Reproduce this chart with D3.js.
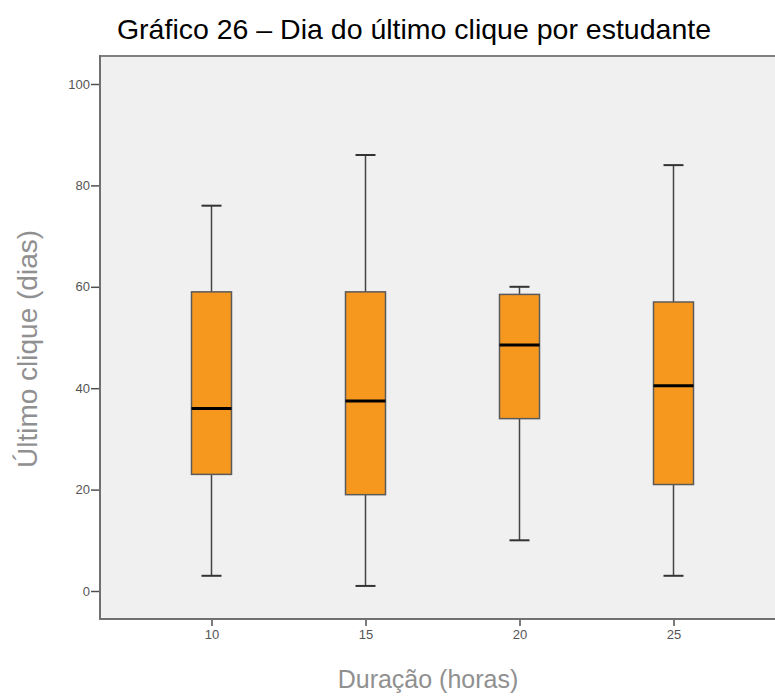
<!DOCTYPE html>
<html>
<head>
<meta charset="utf-8">
<script src="https://cdn.jsdelivr.net/npm/d3@7"></script>
<style>
  body { margin: 0; background: #fff; }
  svg { display: block; font-family: Arial, "Liberation Sans", sans-serif; }
</style>
</head>
<body>
<svg id="chart" width="775" height="697"></svg>
<script>
var WIDTH = 775;
var HEIGHT = 697;

// duração (horas)
var categories = ['10', '15', '20', '25'];
// five number summary
var mins    = [3, 1, 10, 3];
var q1s     = [23, 19, 34, 21];
var medians = [36, 37.5, 48.5, 40.5];
var q3s     = [59, 59, 58.5, 57];
var maxs    = [76, 86, 60, 84];
var yTicks  = [0, 20, 40, 60, 80, 100];

var boxes = categories.map(function(c, i){
    return { cat: c, min: mins[i], q1: q1s[i], med: medians[i], q3: q3s[i], max: maxs[i] };
});

var plot = { left: 100, top: 56, right: 785, bottom: 619 };

var svg = d3.select('#chart');

var xScale = d3.scalePoint()
    .domain(categories)
    .range([plot.left, plot.right])
    .padding(0.724);

var yScale = d3.scaleLinear()
    .domain([0, 100])
    .range([591, 84]);

// plot background
svg.append('rect')
    .attr('x', plot.left)
    .attr('y', plot.top)
    .attr('width', plot.right - plot.left)
    .attr('height', plot.bottom - plot.top)
    .attr('fill', '#f0f0f0');

// frame top
svg.append('line')
    .attr('x1', plot.left).attr('x2', plot.right)
    .attr('y1', plot.top).attr('y2', plot.top)
    .attr('stroke', '#808080').attr('stroke-width', 2);

var leftAxis = d3.axisLeft(yScale).tickValues(yTicks).tickSize(9).tickPadding(1);
var bottomAxis = d3.axisBottom(xScale).tickSize(7).tickPadding(4);

var yAxisG = svg.append('g')
    .attr('transform', 'translate(' + plot.left + ',0)')
    .call(leftAxis);
yAxisG.select('.domain').remove();
yAxisG.append('line')
    .attr('x1', 0).attr('x2', 0)
    .attr('y1', plot.top - 1).attr('y2', plot.bottom + 1)
    .attr('stroke', '#707070').attr('stroke-width', 2);

var xAxisG = svg.append('g')
    .attr('transform', 'translate(0,' + plot.bottom + ')')
    .call(bottomAxis);
xAxisG.select('.domain').remove();
xAxisG.append('line')
    .attr('x1', plot.left - 1).attr('x2', plot.right)
    .attr('y1', 0).attr('y2', 0)
    .attr('stroke', '#707070').attr('stroke-width', 2);

svg.selectAll('.tick line').attr('stroke', '#505050').attr('stroke-width', 1.5);
svg.selectAll('.tick text')
    .attr('fill', '#555')
    .style('font-size', '13px')
    .style('font-family', 'Arial, "Liberation Sans", sans-serif');

// boxes
var boxW = 40, capW = 20;
var g = svg.selectAll('.box').data(boxes).enter().append('g').attr('class', 'box');

g.append('line')
    .attr('x1', function(d){ return xScale(d.cat); })
    .attr('x2', function(d){ return xScale(d.cat); })
    .attr('y1', function(d){ return yScale(d.max); })
    .attr('y2', function(d){ return yScale(d.q3); })
    .attr('stroke', '#444').attr('stroke-width', 1.5);
g.append('line')
    .attr('x1', function(d){ return xScale(d.cat); })
    .attr('x2', function(d){ return xScale(d.cat); })
    .attr('y1', function(d){ return yScale(d.q1); })
    .attr('y2', function(d){ return yScale(d.min); })
    .attr('stroke', '#444').attr('stroke-width', 1.5);
g.append('line')
    .attr('x1', function(d){ return xScale(d.cat) - capW / 2; })
    .attr('x2', function(d){ return xScale(d.cat) + capW / 2; })
    .attr('y1', function(d){ return yScale(d.max); })
    .attr('y2', function(d){ return yScale(d.max); })
    .attr('stroke', '#333').attr('stroke-width', 2);
g.append('line')
    .attr('x1', function(d){ return xScale(d.cat) - capW / 2; })
    .attr('x2', function(d){ return xScale(d.cat) + capW / 2; })
    .attr('y1', function(d){ return yScale(d.min); })
    .attr('y2', function(d){ return yScale(d.min); })
    .attr('stroke', '#333').attr('stroke-width', 2);
g.append('rect')
    .attr('x', function(d){ return xScale(d.cat) - boxW / 2; })
    .attr('y', function(d){ return yScale(d.q3); })
    .attr('width', boxW)
    .attr('height', function(d){ return yScale(d.q1) - yScale(d.q3); })
    .attr('fill', '#f7981e')
    .attr('stroke', '#5a5a5a').attr('stroke-width', 1.5);
g.append('line')
    .attr('x1', function(d){ return xScale(d.cat) - boxW / 2; })
    .attr('x2', function(d){ return xScale(d.cat) + boxW / 2; })
    .attr('y1', function(d){ return yScale(d.med); })
    .attr('y2', function(d){ return yScale(d.med); })
    .attr('stroke', '#000').attr('stroke-width', 3);

// titles
svg.append('text')
    .attr('x', 414).attr('y', 39)
    .attr('text-anchor', 'middle')
    .style('font-size', '28.5px')
    .attr('fill', '#000')
    .text('Gráfico 26 – Dia do último clique por estudante');

svg.append('text')
    .attr('transform', 'translate(37,349) rotate(-90)')
    .attr('text-anchor', 'middle')
    .style('font-size', '28px')
    .attr('fill', '#909090')
    .text('Último clique (dias)');

svg.append('text')
    .attr('x', 428).attr('y', 688)
    .attr('text-anchor', 'middle')
    .style('font-size', '25px')
    .attr('fill', '#909090')
    .text('Duração (horas)');
</script>
</body>
</html>
